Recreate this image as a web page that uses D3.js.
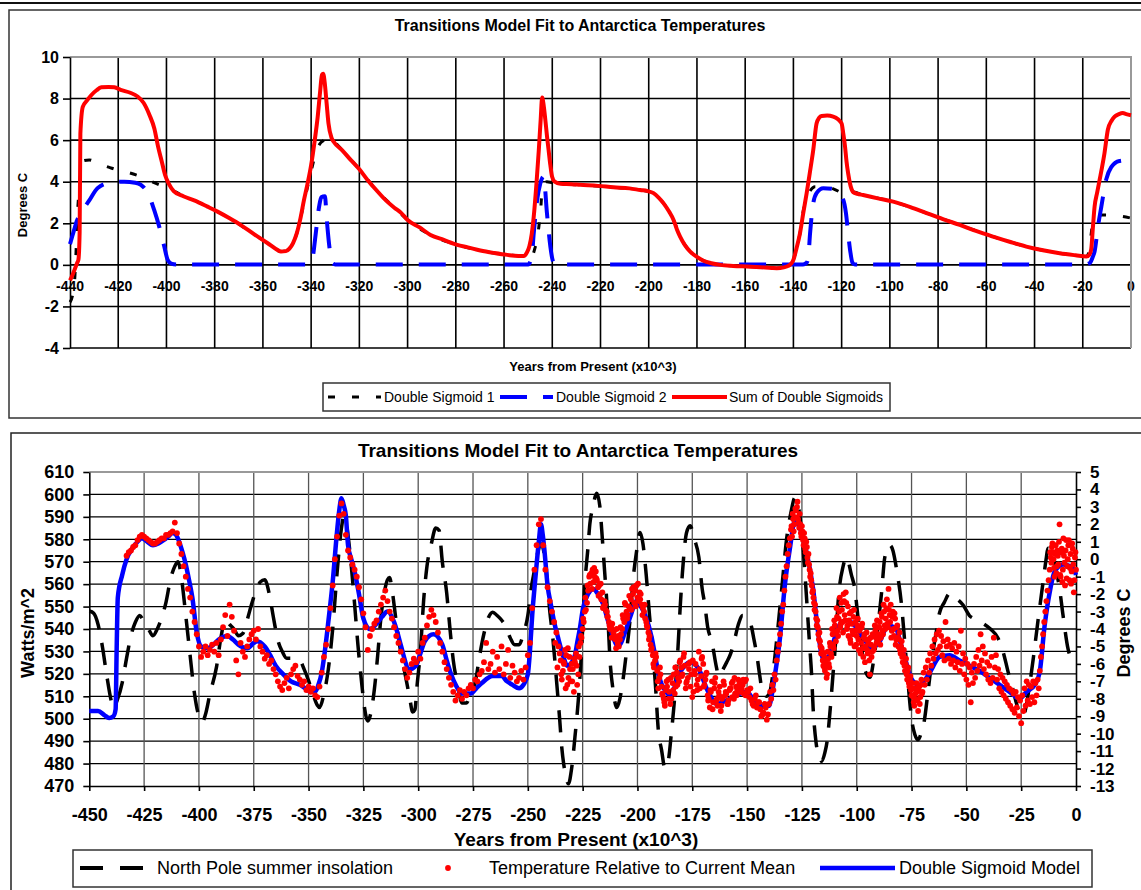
<!doctype html>
<html>
<head>
<meta charset="utf-8">
<script src="https://cdn.jsdelivr.net/npm/d3@7/dist/d3.min.js"></script>
<style>
  body { margin: 0; background: #fff; }
  svg { display: block; font-family: "Liberation Sans", Arial, sans-serif; }
</style>
</head>
<body>
<svg id="chart" width="1141" height="890"></svg>
<script>
// ---------- top chart: [kyr from present, degrees C] ----------
var sigmoid1 = [[-440,-1.8],[-439,-1.5],[-438,-0.6],[-437.5,0.6],[-437,2.2],[-436.3,3.5],[-435.5,4.5],[-434.7,5.0],[-432,5.05],[-428,4.85],[-424,4.7],[-420,4.55],[-417.5,4.49],[-412,4.3],[-407.8,4.09],[-403,3.85],[-399.5,3.69],[-396,3.5],[-393,3.3],[-388.5,3.1],[-383,2.8],[-374,2.25],[-364,1.5],[-358,1.04],[-352.5,0.64],[-349,0.78],[-346,1.5],[-343,2.97],[-340.2,4.4],[-338.1,5.37],[-336.5,5.8],[-334.6,6.0],[-332.6,6.17],[-330.5,5.95],[-327,5.5],[-320,4.6],[-313,3.6],[-305.5,2.75],[-300,2.16],[-290.5,1.44],[-279.4,0.96],[-269.8,0.69],[-258.7,0.48],[-251.8,0.43],[-248.4,0.42],[-247.2,0.8],[-246.3,1.2],[-245.5,1.9],[-244.9,2.5],[-244.2,3.6],[-243.2,3.9],[-242.2,4.0],[-240,3.95],[-236.6,3.9],[-228.4,3.85],[-214.6,3.73],[-203.5,3.6],[-198,3.45],[-193.9,2.97],[-189.7,2.16],[-187,1.36],[-182.8,0.64],[-177.3,0.2],[-170.4,0.0],[-159.3,-0.08],[-153.8,-0.11],[-146.9,-0.16],[-142.1,-0.05],[-140,0.24],[-138.7,0.8],[-137.3,1.5],[-135.9,2.6],[-134.5,3.2],[-133.1,3.55],[-131,3.76],[-127,3.75],[-124.4,3.7],[-120.7,3.5],[-118.6,3.35],[-116.5,3.4],[-115.2,3.5],[-111.1,3.36],[-98.6,3.04],[-84.8,2.49],[-71,1.92],[-57.2,1.36],[-43.4,0.88],[-29.6,0.56],[-18.5,0.4],[-17.3,0.7],[-16.5,1.5],[-15.8,2.1],[-15,2.3],[-13,2.4],[-5,2.35],[0,2.25]];

var sigmoid2 = [[-440,1.0],[-439,1.4],[-438,1.8],[-437.5,2.0],[-435.4,2.5],[-432,3.1],[-428.5,3.7],[-423,3.96],[-417.5,4.0],[-413,3.95],[-410.6,3.85],[-408.5,3.6],[-407.1,3.3],[-405.1,2.64],[-403,1.84],[-400.9,0.88],[-399.5,0.24],[-398,0.06],[-396,0.02],[-341,0.02],[-340,0.1],[-339.5,0.24],[-338.8,0.8],[-338.1,1.5],[-336.7,2.8],[-335.8,3.25],[-334.3,3.3],[-333.5,2.16],[-332.6,1.04],[-331.9,0.4],[-331.2,0.08],[-330,0.02],[-250,0.02],[-248.5,0.4],[-247.7,1.5],[-246.3,3.1],[-245,3.9],[-243.6,4.25],[-242.2,2.48],[-240.8,0.88],[-240,0.3],[-239,0.04],[-236,0.02],[-136,0.02],[-134.5,0.1],[-133.8,0.4],[-133.1,1.5],[-132,2.8],[-130.4,3.45],[-127.6,3.69],[-122.8,3.64],[-119.3,3.12],[-118.2,2.48],[-117.3,1.5],[-116.3,0.56],[-115.5,0.1],[-114.5,0.02],[-19,0.02],[-17,0.1],[-15.8,0.4],[-15.1,0.64],[-13.7,1.84],[-12.3,2.8],[-10.3,4.1],[-8.2,4.7],[-4.8,5.0],[0,5.05]];

var sigmoidSum = [[-440,-0.75],[-439,-0.5],[-438,-0.2],[-437,0.1],[-436.5,0.25],[-436,1.6],[-435.7,6.3],[-434.7,7.6],[-433,7.9],[-431.3,8.15],[-429,8.4],[-427,8.54],[-424,8.56],[-421.6,8.54],[-419,8.42],[-415,8.28],[-412,8.1],[-409.5,7.8],[-407,7.2],[-405,6.55],[-403.5,5.7],[-402,5.0],[-400.5,4.3],[-399,3.9],[-397,3.55],[-393,3.3],[-388.5,3.1],[-383,2.8],[-378.8,2.56],[-374,2.25],[-369,1.9],[-364,1.5],[-358,1.04],[-354,0.72],[-352.5,0.64],[-350.5,0.66],[-349,0.78],[-347.5,1.05],[-346,1.5],[-344.5,2.2],[-343,3.1],[-341.5,3.9],[-340,4.8],[-338.5,6.0],[-337.3,7.1],[-336.3,8.3],[-335.5,9.15],[-335,9.2],[-334.4,8.8],[-333.6,7.8],[-332.8,6.8],[-331.5,6.1],[-330.5,5.9],[-327,5.5],[-323.6,5.05],[-320,4.6],[-316.7,4.1],[-313,3.6],[-309,3.1],[-305.5,2.75],[-302.7,2.5],[-300,2.16],[-295,1.8],[-290.5,1.44],[-285,1.2],[-279.4,0.96],[-275,0.84],[-269.8,0.69],[-264,0.57],[-258.7,0.48],[-254,0.43],[-251.8,0.43],[-250.5,0.6],[-249.5,0.9],[-248.5,1.5],[-247.7,2.3],[-246.5,4.0],[-245.6,5.5],[-244.8,7.0],[-244.2,8.05],[-243.6,7.7],[-242.9,7.0],[-242.2,6.2],[-241.5,5.5],[-240.8,4.8],[-240.1,4.25],[-239,4.0],[-236.6,3.9],[-232,3.88],[-228.4,3.85],[-221,3.8],[-214.6,3.73],[-208,3.68],[-203.5,3.6],[-200.5,3.55],[-198,3.45],[-196,3.25],[-193.9,2.97],[-191.5,2.55],[-189.7,2.16],[-188.3,1.7],[-187,1.36],[-185,0.95],[-182.8,0.64],[-180,0.38],[-177.3,0.2],[-174,0.08],[-170.4,0.0],[-165,-0.05],[-159.3,-0.08],[-153.8,-0.11],[-149,-0.15],[-146.9,-0.16],[-144,-0.12],[-142.1,-0.05],[-141,0.05],[-140,0.24],[-138.7,0.8],[-137.3,1.5],[-135.9,2.5],[-134.5,3.45],[-133.1,4.5],[-131.8,5.5],[-130.4,6.8],[-129.3,7.08],[-128.3,7.16],[-126,7.18],[-123.5,7.13],[-121.5,7.0],[-120,6.8],[-119.3,6.3],[-118.6,5.7],[-118,5.0],[-117.3,4.4],[-116.3,3.8],[-115.2,3.5],[-113.5,3.42],[-111.1,3.36],[-105,3.2],[-98.6,3.04],[-91.5,2.78],[-84.8,2.49],[-78,2.2],[-71,1.92],[-64,1.62],[-57.2,1.36],[-50,1.1],[-43.4,0.88],[-36.5,0.7],[-29.6,0.56],[-23,0.46],[-18.5,0.4],[-17.2,0.5],[-16.5,0.75],[-15.8,1.8],[-15.1,2.8],[-14,3.5],[-13,4.1],[-12,4.7],[-11,5.37],[-9.6,6.5],[-8,6.95],[-6.8,7.13],[-5,7.25],[-3.4,7.3],[-2,7.25],[0,7.2]];

var topXTicks = [-440,-420,-400,-380,-360,-340,-320,-300,-280,-260,-240,-220,-200,-180,-160,-140,-120,-100,-80,-60,-40,-20,0];
var topYTicks = [-4,-2,0,2,4,6,8,10];

// ---------- bottom chart ----------
// North Pole summer insolation, [kyr, W/m^2]
var insolation = [[-450,548],[-448,547],[-446,542],[-444,532],[-442,519],[-440,508],[-439,505],[-437,509],[-435,516],[-433,527],[-431,537],[-429,543],[-427,546],[-425,543],[-423,540],[-421,537],[-419,540],[-417,545],[-415,552],[-413,562],[-411,568],[-409.5,570],[-408,563],[-406,546],[-404,528],[-402,511],[-400,501],[-398.5,498.5],[-397,502],[-395,511],[-392,523],[-390,536],[-388,544],[-386,542],[-384,540],[-382,537],[-380,538],[-378,544],[-376,551],[-374,557],[-372,561],[-370,562],[-368,556],[-366,545],[-364,535],[-362,530],[-360,527],[-357,527],[-354,526],[-352,522],[-350,517],[-348,511],[-346,506],[-345,505],[-343,511],[-341,522],[-339,540],[-337,565],[-335,585],[-334,590],[-333,588],[-331,573],[-329,551],[-327.5,533],[-326,518],[-324.5,505],[-323,499],[-321.5,503],[-320,513],[-318.5,528],[-317,545],[-315.5,556],[-314,562],[-313,563],[-312,558],[-310,543],[-308,530],[-306,520],[-304,510],[-302.5,503],[-301.5,504],[-300.5,515],[-299,530],[-297.5,553],[-296,568],[-294,578],[-292,585],[-290.5,584],[-289,570],[-287,556],[-285.5,540],[-284,526],[-282,515],[-280,507],[-278,507],[-276.5,510],[-274,516],[-272,528],[-270,538],[-268,545],[-266,547.5],[-264,546],[-262,544],[-260,541],[-258,536],[-256,533],[-254,533],[-252,538],[-250,546],[-248.5,558],[-247,566],[-245.5,574],[-244,578],[-242,570],[-240,548],[-238.5,535],[-237,518],[-235.5,500],[-234.5,487],[-233,476],[-231.5,471],[-230,478],[-228.5,492],[-227,508],[-225.5,530],[-224,560],[-222.6,576],[-221.7,587],[-220.4,594],[-218.6,600.5],[-217.2,595],[-216,580],[-215,566],[-213.5,545],[-212.5,526],[-211,512],[-209.5,505],[-208,509],[-206.5,518],[-205,530],[-203.5,543],[-202,562],[-200.5,574],[-198.8,583],[-197.5,578],[-196,564],[-194.5,546],[-193,530],[-191.8,515],[-190.5,495],[-189,486],[-187.5,478],[-186,481],[-184.5,494],[-183,510],[-181.5,532],[-180.5,550],[-179.5,565],[-177.6,583],[-176,586],[-174,580],[-172,572],[-170.5,558],[-169.3,551],[-168,541],[-166,534],[-164,523],[-163,519],[-161,522],[-159.4,525],[-157.5,529],[-156,534],[-154,542],[-152,546],[-150,545],[-148,541],[-147,536],[-145.5,528],[-144.2,519],[-143,512],[-141,510],[-139.6,512],[-138,522],[-136,540],[-134,560],[-132,580],[-130,592],[-128.2,598.5],[-126.5,594],[-125,582],[-123.5,563],[-122.5,548],[-121.5,533],[-120.6,520],[-119.9,505],[-118.5,489],[-117,483],[-116,481],[-114.5,485],[-113.5,490],[-112.3,502],[-110.8,520],[-109.5,536],[-108.5,552],[-106.2,568],[-104.7,572],[-102.4,564],[-100.9,558],[-99.4,545],[-97.8,533],[-97,525],[-95.5,520],[-94,518.5],[-92,528],[-90,544],[-88.7,556],[-87.2,572],[-85,577.4],[-83.5,575],[-81.9,567],[-79.6,551],[-78,533],[-76.5,515],[-75,500],[-73.5,493],[-72,490.6],[-70.5,494],[-69.2,499],[-67.5,512],[-65.2,530],[-63.5,540],[-62.3,547],[-60,552],[-57.5,556],[-55,554],[-51.5,550.7],[-48.6,546],[-45,544],[-42.4,542.5],[-39,540],[-35.6,536],[-33,529],[-31,521],[-29,514],[-27.2,507],[-25.5,502],[-24,501],[-22.5,507],[-21,516],[-19.6,526],[-17.3,544],[-15,561],[-13.5,572],[-12.8,576],[-11,574],[-9,566],[-7.5,558],[-5.9,546],[-3.6,531],[-1.4,525.4],[0,524]];

// Double sigmoid model, [kyr, degrees C]
var modelTemp = [[-450,-8.7],[-446,-8.7],[-443,-8.95],[-441,-9.1],[-439,-9.0],[-438,-8.6],[-437.5,-5.0],[-437,-2.2],[-435,-0.9],[-433,0.0],[-430.5,0.6],[-428,1.0],[-426,1.2],[-423.5,1.0],[-421,0.8],[-418.5,0.9],[-416,1.1],[-414,1.3],[-412,1.5],[-410.5,1.4],[-409,1.0],[-407.5,0.4],[-406,-0.3],[-404.5,-1.2],[-403,-2.2],[-401,-4.2],[-399,-5.0],[-396,-5.1],[-393.5,-4.9],[-391,-4.6],[-387,-4.4],[-384.5,-4.6],[-382,-4.9],[-378,-5.1],[-375,-4.8],[-373.5,-4.7],[-370,-5.0],[-367.5,-5.5],[-365,-6.1],[-361.5,-6.6],[-358,-7.0],[-354,-7.2],[-351.5,-7.4],[-349,-7.6],[-347,-7.6],[-345.5,-7.2],[-344,-6.5],[-342.5,-5.2],[-341,-3.6],[-339,-1.3],[-337,1.6],[-336,2.8],[-335,3.5],[-334,3.1],[-333,2.5],[-332,0.8],[-330.5,0.0],[-329,-0.7],[-327,-2.0],[-325,-3.4],[-322,-4.0],[-319,-3.7],[-316.5,-3.3],[-314,-3.0],[-311,-3.6],[-309.5,-4.2],[-308,-4.9],[-304,-6.3],[-301,-6.1],[-299,-5.4],[-297,-4.7],[-293,-4.3],[-289,-4.9],[-287,-5.8],[-285,-6.6],[-282.5,-7.3],[-280,-7.7],[-276,-7.7],[-273.5,-7.4],[-271,-7.1],[-266,-6.7],[-262,-6.7],[-259.5,-7.0],[-257,-7.2],[-254,-7.4],[-252,-7.2],[-250,-6.6],[-249,-5.2],[-248,-3.2],[-247,-1.7],[-246,-0.3],[-245,1.0],[-244,2.0],[-243.2,1.4],[-242.5,0.6],[-241,-1.5],[-239.5,-2.6],[-238,-3.6],[-236,-4.6],[-234,-5.5],[-232,-6.1],[-230.5,-6.0],[-228.5,-5.5],[-227.5,-4.8],[-226.3,-4.0],[-224.8,-2.8],[-223.3,-2.2],[-221.5,-1.8],[-220.2,-1.7],[-218,-2.0],[-215.6,-2.6],[-213.5,-3.5],[-211,-4.5],[-209,-5.0],[-207.5,-4.8],[-206,-4.3],[-203,-3.2],[-200.5,-2.4],[-198.5,-2.7],[-196.5,-3.2],[-193.5,-4.5],[-192,-5.5],[-190,-6.8],[-187.5,-7.5],[-185,-7.8],[-183,-7.3],[-181,-6.6],[-178.5,-6.1],[-176,-5.9],[-174,-6.0],[-172,-6.3],[-168.5,-7.4],[-166,-8.0],[-164,-8.3],[-159.5,-8.1],[-155,-7.8],[-150,-7.6],[-147.5,-8.0],[-145,-8.4],[-140,-8.4],[-138.5,-7.6],[-137.5,-6.8],[-135,-4.5],[-132.8,-1.5],[-130.5,0.6],[-128.2,2.2],[-126,1.8],[-122.9,0.4],[-119.9,-1.7],[-117.6,-4.2],[-115.3,-5.7],[-113,-5.6],[-110,-4.5],[-107,-3.6],[-104,-3.5],[-101,-3.8],[-97,-4.5],[-93.2,-5.1],[-89.5,-4.7],[-85.7,-3.8],[-82,-4.0],[-80,-4.8],[-78,-5.7],[-74.3,-7.0],[-71.3,-7.2],[-66.7,-6.5],[-62.2,-5.6],[-57.6,-5.5],[-53.1,-5.8],[-48.5,-6.1],[-44,-6.4],[-39.4,-6.8],[-34.8,-7.2],[-30.3,-7.6],[-25.7,-8.0],[-22.6,-7.6],[-18.8,-7.2],[-16.6,-6.5],[-14.3,-3.8],[-12,-1.9],[-9.7,-0.7],[-5.9,-0.3],[-1.4,-0.5],[0,-0.9]];

// Temperature relative to current mean (degrees C), sampled at regular years
var tempStartA = -433, tempStepA = 1;
var tempA = [
  0.2,0.4,0.5,0.7,0.8,1.1,1.3,1.4,1.3,1.2,
  1.1,1.0,0.9,0.9,1.0,1.1,1.2,1.2,1.4,1.4,
  1.5,1.6,2.1,1.5,0.9,0.3,-0.4,-1.0,-1.7,-2.2,
  -3.0,-3.6,-4.3,-5.0,-5.6,-5.3,-5.0,-5.5,-5.2,-4.9,
  -5.3,-4.8,-5.5,-4.6,-3.9,-3.2,-4.4,-2.6,-3.3,-4.1,
  -5.8,-6.6,-4.8,-5.3,-5.6,-5.0,-4.6,-4.3,-4.1,-4.6,
  -4.0,-5.0,-5.3,-5.7,-5.5,-6.0,-5.8,-6.3,-6.6,-7.0,
  -7.3,-7.5,-7.1,-6.8,-7.4,-6.6,-6.3,-6.1,-6.7,-6.9,
  -7.2,-7.0,-7.5,-7.3,-7.6,-7.4,-7.8,-7.9,-7.3,-6.5,
  -5.6,-4.9,-4.0,-2.8,-1.5,0.0,1.3,2.5,3.2,2.6,
  1.4,0.5,0.1,-0.3,-0.6,-1.0,-1.6,-2.3,-3.1,-3.9,
  -5.2,-4.4,-4.0,-3.7,-3.5,-3.0,-2.6,-2.2,-1.8,-2.4,
  -3.0,-3.4,-3.9,-4.4,-4.8,-5.3,-5.8,-6.3,-6.8,-6.5,
  -6.0,-5.7,-5.9,-5.3,-5.7,-4.8,-4.5,-3.8,-3.3,-2.9,
  -3.2,-3.6,-4.2,-4.8,-5.3,-5.9,-6.3,-6.8,-7.2,-7.6,
  -8.1,-7.8,-7.5,-8.0,-7.6,-7.8,-7.4,-7.2,-7.4,-6.9,
  -7.0,-6.6,-6.4,-5.9,-4.8,-6.3,-6.0,-5.3,-6.5,-5.6,
  -6.3,-5.0,-6.6,-6.0,-5.2,-6.8,-6.1,-6.5,-7.0,-6.8,
  -6.4,-6.9,-6.2,-5.5,-4.8,-2.8,-0.6,0.8,2.0,2.3,
  0.8,-0.6,-1.6,-2.4,-3.0,-3.6,-4.2,-5.0,-5.8,-6.4,
  -5.2,-7.2,-5.6,-6.0,-7.6,-5.4,-6.6,-4.8,-4.0,-3.0,
  -2.5,-1.0,-0.8,-1.3,-0.7,-1.6,-2.0,-1.9,-2.4,-3.0,
  -3.6,-3.9,-4.2,-4.6,-4.8,-4.6,-4.0,-3.6,-3.0,-2.7,
  -2.3,-2.0,-1.8,-2.2,-1.9,-2.6,-3.0,-3.6,-4.2,-4.9,
  -5.5,-5.8,-6.4,-6.8,-7.3,-8.0,-7.5,-6.9,-8.3,-7.1,
  -7.7,-6.5,-7.0,-6.2,-5.6,-7.4,-6.8,-5.9,-7.9,-6.4,
  -7.2,-5.3,-6.7,-6.0,-6.9,-7.8,-8.5,-7.0,-7.4,-8.1,
  -7.6,-8.7,-7.9,-7.8,-8.3,-7.5,-7.1,-8.0,-7.3,-6.9,
  -7.6,-7.2,-7.0,-7.5,-7.9,-8.1,-8.4,-7.8,-8.2,-8.6,
  -8.9,-8.3,-9.2
];
var tempStartB = -237.5, tempStepB = 1;
var tempB = [
  -4.8,-6.2,-5.4,-6.9,-6.0,-5.5,-6.8,-7.0,-6.3,-5.9,
  -7.2,-5.6,-4.5,-3.6,-2.9,-1.8,-1.4,-0.6,-1.0,-1.2,
  -1.5,-2.3,-2.7,-2.9,-3.3,-4.0,-3.7,-4.4,-4.0,-5.0,
  -4.3,-3.4,-2.6,-3.2,-2.8,-1.7,-2.5,-1.5,-2.4,-2.0,
  -2.8,-3.4,-3.9,-4.4,-5.1,-6.2,-5.6,-7.4,-6.6,-7.8,
  -8.4,-7.3,-7.6,-8.0,-6.6,-7.3,-6.8,-5.8,-6.6,-6.1,
  -7.0,-6.3,-6.6,-7.6,-6.0,-6.9,-7.4,-5.6,-7.2,-6.5,
  -8.0,-7.6,-8.2,-6.8,-8.4,-7.3,-8.0,-7.2,-7.7,-8.1,
  -7.4,-7.0,-7.7,-7.5,-7.1,-7.4,-7.7,-6.9,-7.6,-7.4,
  -8.3,-8.0,-8.5,-8.2,-9.0,-8.8,-8.5,-8.9
];
var tempStartC = -140, tempStepC = 0.5;
var tempC = [
  -8.3,-7.6,-8.0,-7.2,-7.5,-6.6,-6.9,-5.8,-5.3,-4.9,
  -4.3,-3.7,-3.0,-2.6,-1.8,-1.0,-0.4,0.3,0.8,1.2,
  1.7,1.3,2.3,2.0,2.9,2.4,3.3,2.1,2.6,1.5,
  1.9,1.1,1.5,0.6,1.0,0.1,0.3,-0.6,-0.8,-1.5,
  -1.8,-2.5,-2.6,-3.4,-3.5,-4.3,-4.2,-5.0,-5.1,-5.8,
  -5.5,-6.4,-6.0,-6.6,-5.7,-6.2,-5.0,-5.6,-4.3,-5.1,
  -3.8,-4.7,-3.3,-4.4,-3.0,-3.9,-2.5,-3.6,-2.0,-3.2,
  -1.9,-4.0,-2.7,-3.5,-4.6,-3.0,-4.1,-3.3,-5.0,-3.6,
  -4.4,-3.4,-5.2,-4.0,-4.8,-3.7,-5.6,-4.3,-5.0,-4.2,
  -5.4,-4.6,-6.6,-4.9,-5.3,-4.4,-5.0,-4.1,-4.8,-3.9,
  -4.6,-3.6,-4.5,-3.3,-4.3,-3.0,-4.0,-2.8,-3.7,-1.7,
  -3.2,-2.6,-4.1,-3.0,-4.4,-3.4,-4.6,-3.8,-5.0,-4.2,
  -5.4,-4.7,-5.9,-5.2,-6.4,-5.7,-6.9,-6.2,-7.3,-6.7,
  -7.8,-7.1,-8.2,-7.4,-8.0,-7.6,-8.7,-7.3,-7.9,-6.9,
  -7.6,-6.5,-7.2,-6.2,-6.9,-5.8,-6.5,-5.4,-6.1,-5.0,
  -5.7,-4.6,-5.4,-4.3,-5.2,-4.1,-5.0,-4.4,-5.5,-4.7,
  -5.8,-3.6,-5.0,-4.6,-5.7,-4.9,-6.0,-5.1,-5.8,-4.8,
  -6.2,-5.3,-5.9,-5.0,-6.4,-4.1,-6.0,-5.4,-6.6,-5.7,
  -6.9,-6.0,-7.2,-6.2,-8.2,-6.5,-7.1,-6.0,-6.8,-5.6,
  -6.4,-5.2,-6.1,-4.3,-5.8,-5.0,-6.3,-5.4,-6.6,-5.9,
  -6.9,-6.1,-7.1,-5.6,-6.8,-4.5,-6.2,-5.5,-6.9,-6.3,
  -7.4,-6.6,-7.6,-6.8,-7.8,-7.0,-8.0,-7.2,-8.2,-7.4,
  -8.4,-7.5,-8.6,-7.7,-8.8,-7.6,-8.5,-7.9,-9.0,-8.1,
  -9.4,-7.8,-8.7,-7.4,-8.4,-7.0,-8.1,-7.2,-8.3,-7.3,
  -7.9,-7.0,-8.2,-7.1,-7.8,-6.9,-7.4,-6.4,-5.6,-5.0,
  -4.3,-3.6,-3.0,-2.4,-1.8,-1.2,-0.6,0.1,0.7,0.4,
  -0.5,0.3,-0.8,0.5,-0.3,2.0,-1.0,0.6,-0.6,0.2,
  -1.5,1.1,-0.4,0.8,-1.2,0.3,-0.7,0.6,-1.9,0.1,
  -0.6
];
var tempStartD = -11.75, tempStepD = 0.5;
var tempD = [0.4,-0.2,0.9,0.0,-1.0,0.8,-0.4,0.2,1.0,-0.9,0.4,-1.3,1.2,-0.2,0.5,-1.1,0.0,1.1,-0.5,-1.4,0.9,-0.3,-1.2,0.4];
var tempStartE = -234.75, tempStepE = 1;
var tempE = [
  -6.6,-5.9,-7.4,-5.1,-6.3,-7.0,-5.7,-6.1,-5.0,-4.4,
  -3.4,-2.2,-1.5,-0.9,-1.7,-0.5,-1.1,-2.1,-1.4,-2.8,
  -2.6,-3.3,-3.8,-4.5,-4.1,-5.1,-4.4,-3.9,-3.2,-2.5,
  -3.4,-2.1,-2.9,-1.6,-2.7,-1.4,-2.3,-3.2,-2.6,-3.8,
  -4.6,-5.2,-6.0,-5.4,-7.0,-6.2,-7.7,-8.2,-7.0,-8.0,
  -6.8,-7.5,-6.2,-7.2,-5.9,-6.7,-5.4,-7.1,-6.0,-7.3,
  -5.8,-6.6,-7.5,-6.3,-5.7,-7.3,-6.6,-8.1,-7.5,-8.6,
  -7.1,-8.0,-7.8,-8.4,-7.0,-7.6,-8.3,-7.4,-7.9,-6.8,
  -7.8,-7.3,-7.6,-6.9,-7.8
];
var tempStartF = -129.75, tempStepF = 0.5;
var tempF = [
  1.9,2.6,1.6,2.4,2.8,3.0,2.3,1.8,2.0,1.3,
  1.6,0.8,1.2,0.4,0.7,-0.2,-0.3,-1.0,-1.2,-1.9,
  -2.2,-2.9,-3.0,-3.8,-3.9,-4.6,-4.7,-5.4,-5.3,-6.1,
  -6.2,-5.8,-6.8,-5.3,-6.0,-4.8,-5.4,-4.0,-4.9,-3.5,
  -4.2,-2.8,-4.1,-3.4,-2.2,-3.7,-2.9,-4.2,-2.4,-3.5,
  -2.5,-3.8,-4.4,-3.1,-4.8,-3.7,-4.3,-2.9,-4.1,-4.9,
  -3.8,-4.6,-4.1,-5.4,-3.9,-5.1,-4.5,-5.9,-4.6,-5.2,
  -4.8,-5.8,-4.5,-5.6,-4.3,-5.2,-3.8,-4.5,-3.5,-4.3,
  -3.9,-4.9,-3.1,-4.1,-2.6,-3.8,-3.4,-2.3,-3.9,-2.9,
  -3.6,-4.5,-3.3,-4.0,-3.1,-4.9,-3.9,-4.5,-4.6,-5.2,
  -5.0,-5.6,-5.5,-6.1,-6.0,-6.6,-6.4,-7.1,-6.9,-7.5,
  -7.4,-7.9,-8.4,-7.7,-7.1,-8.1,-7.5,-8.3,-7.2,-7.7
];

var botXTicks = [-450,-425,-400,-375,-350,-325,-300,-275,-250,-225,-200,-175,-150,-125,-100,-75,-50,-25,0];
var wattTicks = [470,480,490,500,510,520,530,540,550,560,570,580,590,600,610];
var degTicks = [-13,-12,-11,-10,-9,-8,-7,-6,-5,-4,-3,-2,-1,0,1,2,3,4,5];

var svg = d3.select("#chart");
var plain = d => String(d);   // keep ascii hyphen like the original

// ---------- frames ----------
svg.append("line").attr("x1", 0).attr("x2", 1141).attr("y1", 3).attr("y2", 3)
  .attr("stroke", "#111").attr("stroke-width", 2);
svg.append("rect").attr("x", 9).attr("y", 10).attr("width", 1150).attr("height", 408)
  .attr("fill", "none").attr("stroke", "#333").attr("stroke-width", 1.5);
svg.append("rect").attr("x", 11).attr("y", 433).attr("width", 1150).attr("height", 480)
  .attr("fill", "none").attr("stroke", "#222").attr("stroke-width", 1.5);

// ---------- top chart ----------
var xT = d3.scaleLinear().domain([-440, 0]).range([70, 1131]);
var yT = d3.scaleLinear().domain([-4, 10]).range([348, 57]);
var gTop = svg.append("g");

gTop.append("text").attr("x", 580).attr("y", 31).attr("text-anchor", "middle")
  .style("font-size", "16px").style("font-weight", "bold")
  .text("Transitions Model Fit to Antarctica Temperatures");

gTop.selectAll(".xlab").data(topXTicks).enter().append("text")
  .attr("x", d => xT(d)).attr("y", 291).attr("text-anchor", "middle")
  .style("font-size", "14px").style("font-weight", "bold").text(plain);

gTop.selectAll(".hgrid").data(topYTicks.filter(d => d < 10)).enter().append("line")
  .attr("x1", xT(-440)).attr("x2", xT(0)).attr("y1", d => yT(d)).attr("y2", d => yT(d))
  .attr("stroke", "#000").attr("stroke-width", 1.6);
gTop.selectAll(".vgrid").data(topXTicks.filter(d => d > -440 && d < 0)).enter().append("line")
  .attr("x1", d => xT(d)).attr("x2", d => xT(d)).attr("y1", yT(10)).attr("y2", yT(-4))
  .attr("stroke", "#000").attr("stroke-width", 1.6);
gTop.append("path")
  .attr("d", "M" + xT(-440) + "," + yT(10) + "H" + xT(0) + "V" + yT(-4))
  .attr("fill", "none").attr("stroke", "#999").attr("stroke-width", 2);

var axT = gTop.append("g").attr("transform", "translate(" + xT(-440) + ",0)")
  .call(d3.axisLeft(yT).tickValues(topYTicks).tickFormat(plain).tickSize(7).tickPadding(4).tickSizeOuter(0));
axT.select(".domain").attr("stroke", "#000").attr("stroke-width", 1.6);
axT.selectAll(".tick line").attr("stroke", "#000").attr("stroke-width", 1.6);
axT.selectAll("text").style("font-size", "16px").style("font-weight", "bold")
  .style("font-family", "'Liberation Sans', Arial, sans-serif").attr("fill", "#000");

gTop.append("text").attr("transform", "translate(27,205) rotate(-90)").attr("text-anchor", "middle")
  .style("font-size", "13px").style("font-weight", "bold").text("Degrees C");
gTop.append("text").attr("x", 593).attr("y", 371).attr("text-anchor", "middle")
  .style("font-size", "13px").style("font-weight", "bold").text("Years from Present (x10^3)");

var lineT = d3.line().x(d => xT(d[0])).y(d => yT(d[1])).curve(d3.curveMonotoneX);
gTop.append("path").datum(sigmoid1).attr("d", lineT).attr("fill", "none")
  .attr("stroke", "#000").attr("stroke-width", 3).attr("stroke-dasharray", "7,17");
gTop.append("path").datum(sigmoid2).attr("d", lineT).attr("fill", "none")
  .attr("stroke", "#0000ff").attr("stroke-width", 4).attr("stroke-dasharray", "27,16");
gTop.append("path").datum(sigmoidSum).attr("d", lineT).attr("fill", "none")
  .attr("stroke", "#ff0000").attr("stroke-width", 4);

// top legend
var lgT = gTop.append("g");
lgT.append("rect").attr("x", 323).attr("y", 383).attr("width", 567).attr("height", 28)
  .attr("fill", "#fff").attr("stroke", "#333").attr("stroke-width", 1.5);
lgT.append("line").attr("x1", 328).attr("x2", 381).attr("y1", 397).attr("y2", 397)
  .attr("stroke", "#000").attr("stroke-width", 3).attr("stroke-dasharray", "7,17");
lgT.append("line").attr("x1", 500).attr("x2", 553).attr("y1", 397).attr("y2", 397)
  .attr("stroke", "#0000ff").attr("stroke-width", 4).attr("stroke-dasharray", "27,16");
lgT.append("line").attr("x1", 672).attr("x2", 727).attr("y1", 397).attr("y2", 397)
  .attr("stroke", "#ff0000").attr("stroke-width", 4);
[["Double Sigmoid 1", 384], ["Double Sigmoid 2", 556], ["Sum of Double Sigmoids", 729]].forEach(function (t) {
  lgT.append("text").attr("x", t[1]).attr("y", 402).style("font-size", "14px").text(t[0]);
});

// ---------- bottom chart ----------
var xB = d3.scaleLinear().domain([-450, 0]).range([89.3, 1076]);
var yW = d3.scaleLinear().domain([470, 610]).range([786, 472]);
var yC = d3.scaleLinear().domain([-13, 5]).range([786, 472]);
var gBot = svg.append("g");

gBot.append("text").attr("x", 578).attr("y", 457).attr("text-anchor", "middle")
  .style("font-size", "19px").style("font-weight", "bold")
  .text("Transitions Model Fit to Antarctica Temperatures");

gBot.selectAll(".hgrid").data(wattTicks.filter(d => d > 470 && d < 610)).enter().append("line")
  .attr("x1", xB(-450)).attr("x2", xB(0)).attr("y1", d => yW(d)).attr("y2", d => yW(d))
  .attr("stroke", "#000").attr("stroke-width", 1.3);
gBot.selectAll(".vgrid").data(botXTicks.filter(d => d > -450 && d < 0)).enter().append("line")
  .attr("x1", d => xB(d)).attr("x2", d => xB(d)).attr("y1", yW(610)).attr("y2", yW(470))
  .attr("stroke", "#555").attr("stroke-width", 1.3);
gBot.append("line").attr("x1", xB(-450)).attr("x2", xB(0)).attr("y1", yW(610)).attr("y2", yW(610))
  .attr("stroke", "#999").attr("stroke-width", 2);

function styleAxis(ax, size) {
  ax.select(".domain").attr("stroke", "#000").attr("stroke-width", 1.6);
  ax.selectAll(".tick line").attr("stroke", "#000").attr("stroke-width", 1.6);
  ax.selectAll("text").style("font-size", size).style("font-weight", "bold")
    .style("font-family", "'Liberation Sans', Arial, sans-serif").attr("fill", "#000");
}
styleAxis(gBot.append("g").attr("transform", "translate(" + xB(-450) + ",0)")
  .call(d3.axisLeft(yW).tickValues(wattTicks).tickFormat(plain).tickSize(6).tickPadding(9).tickSizeOuter(0)), "18px");
styleAxis(gBot.append("g").attr("transform", "translate(" + xB(0) + ",0)")
  .call(d3.axisRight(yC).tickValues(degTicks).tickFormat(plain).tickSize(5).tickPadding(9).tickSizeOuter(0)), "17px");
styleAxis(gBot.append("g").attr("transform", "translate(0," + yW(470) + ")")
  .call(d3.axisBottom(xB).tickValues(botXTicks).tickFormat(plain).tickSize(5).tickPadding(17).tickSizeOuter(0)), "18px");

gBot.append("text").attr("transform", "translate(34,633) rotate(-90)").attr("text-anchor", "middle")
  .style("font-size", "18px").style("font-weight", "bold").text("Watts/m^2");
gBot.append("text").attr("transform", "translate(1130,633) rotate(-90)").attr("text-anchor", "middle")
  .style("font-size", "18px").style("font-weight", "bold").text("Degrees C");
gBot.append("text").attr("x", 576).attr("y", 846).attr("text-anchor", "middle")
  .style("font-size", "19px").style("font-weight", "bold").text("Years from Present (x10^3)");

var lineW = d3.line().x(d => xB(d[0])).y(d => yW(d[1])).curve(d3.curveMonotoneX);
var lineC = d3.line().x(d => xB(d[0])).y(d => yC(d[1])).curve(d3.curveMonotoneX);
gBot.append("path").datum(insolation).attr("d", lineW).attr("fill", "none")
  .attr("stroke", "#000").attr("stroke-width", 3.5).attr("stroke-dasharray", "22,14");
gBot.append("path").datum(modelTemp).attr("d", lineC).attr("fill", "none")
  .attr("stroke", "#0000ff").attr("stroke-width", 4.5);

function toPoints(start, step, vals) {
  return vals.map((v, i) => [start + i * step, v]);
}
var tempPoints = [].concat(
  toPoints(tempStartA, tempStepA, tempA),
  toPoints(tempStartB, tempStepB, tempB),
  toPoints(tempStartC, tempStepC, tempC),
  toPoints(tempStartD, tempStepD, tempD),
  toPoints(tempStartE, tempStepE, tempE),
  toPoints(tempStartF, tempStepF, tempF)
);
gBot.selectAll(".dot").data(tempPoints).enter().append("circle")
  .attr("cx", d => xB(d[0])).attr("cy", d => yC(d[1])).attr("r", 2.9)
  .attr("fill", "#ff0000");

// bottom legend
var lgB = gBot.append("g");
lgB.append("rect").attr("x", 73).attr("y", 850).attr("width", 1019).attr("height", 37)
  .attr("fill", "#fff").attr("stroke", "#333").attr("stroke-width", 1.5);
lgB.append("line").attr("x1", 80).attr("x2", 146).attr("y1", 868).attr("y2", 868)
  .attr("stroke", "#000").attr("stroke-width", 4).attr("stroke-dasharray", "23,17");
lgB.append("circle").attr("cx", 448).attr("cy", 868).attr("r", 2.9).attr("fill", "#ff0000");
lgB.append("line").attr("x1", 820).attr("x2", 895).attr("y1", 868).attr("y2", 868)
  .attr("stroke", "#0000ff").attr("stroke-width", 4.5);
[["North Pole summer insolation", 157], ["Temperature Relative to Current Mean", 489], ["Double Sigmoid Model", 899]].forEach(function (t) {
  lgB.append("text").attr("x", t[1]).attr("y", 874).style("font-size", "18px").text(t[0]);
});
</script>
</body>
</html>
